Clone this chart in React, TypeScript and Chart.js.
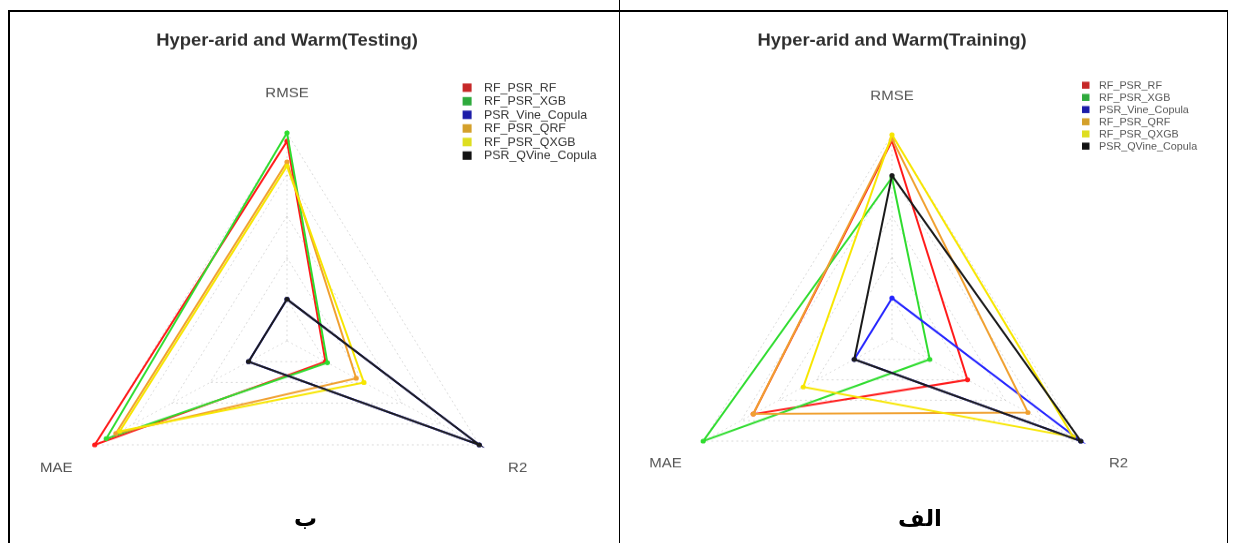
import React, { useEffect, useRef } from 'react';
import { Chart, registerables } from 'chart.js';

Chart.register(...registerables);

// Axes in clockwise order from the top (as drawn)
const AXES = ['RMSE', 'R2', 'MAE'];
const MODELS = ['RF_PSR_RF', 'RF_PSR_XGB', 'PSR_Vine_Copula', 'RF_PSR_QRF', 'RF_PSR_QXGB', 'PSR_QVine_Copula'];

// Relative radar values (fraction of outer ring): [RMSE, R2, MAE]
const TEST_RF_PSR_RF = [0.96, 0.2, 1.0];
const TEST_RF_PSR_XGB = [1.0, 0.21, 0.94];
const TEST_PSR_VINE = [0.2, 1.0, 0.2];
const TEST_RF_PSR_QRF = [0.86, 0.36, 0.89];
const TEST_RF_PSR_QXGB = [0.84, 0.4, 0.87];
const TEST_PSR_QVINE = [0.2, 1.0, 0.2];

const TRAIN_RF_PSR_RF = [0.97, 0.4, 0.735];
const TRAIN_RF_PSR_XGB = [0.79, 0.2, 1.0];
const TRAIN_PSR_VINE = [0.2, 1.0, 0.2];
const TRAIN_RF_PSR_QRF = [0.98, 0.72, 0.735];
const TRAIN_RF_PSR_QXGB = [1.0, 0.96, 0.47];
const TRAIN_PSR_QVINE = [0.8, 1.0, 0.2];

const TEST_SERIES = [TEST_RF_PSR_RF, TEST_RF_PSR_XGB, TEST_PSR_VINE, TEST_RF_PSR_QRF, TEST_RF_PSR_QXGB, TEST_PSR_QVINE];
const TRAIN_SERIES = [TRAIN_RF_PSR_RF, TRAIN_RF_PSR_XGB, TRAIN_PSR_VINE, TRAIN_RF_PSR_QRF, TRAIN_RF_PSR_QXGB, TRAIN_PSR_QVINE];

const LINE_COLORS = ['#ff1a1a', '#2fdc2f', '#2424ff', '#f0a030', '#f7e600', '#1a1a1a'];
const LEGEND_COLORS = ['#c62828', '#2eaa3c', '#1c1ca8', '#d4a02a', '#dede20', '#111111'];

const SY = 0.937; // vertical squeeze of the original figure
const FONT = '"Liberation Sans", Arial, sans-serif';

const decorPlugin = {
  id: 'radarDecor',
  afterDraw(chart: any, _args: any, opts: any) {
    const ctx = chart.ctx;
    const scale = chart.scales.r;
    ctx.save();
    ctx.font = `${opts.axisFont}px ${FONT}`;
    ctx.fillStyle = opts.axisColor;
    ctx.textAlign = 'center';
    ctx.textBaseline = 'middle';
    (chart.data.labels as string[]).forEach((lab, i) => {
      const p = scale.getPointPosition(i, scale.drawingArea * 1.2);
      ctx.fillText(lab, p.x, p.y + 2.5);
    });
    ctx.font = `${opts.legendFont}px ${FONT}`;
    ctx.textAlign = 'left';
    chart.data.datasets.forEach((ds: any, i: number) => {
      const y = opts.legendY + i * opts.legendDy;
      ctx.fillStyle = LEGEND_COLORS[i];
      ctx.fillRect(opts.legendX, y - opts.legendBox / 2, opts.legendBox, opts.legendBox);
      ctx.fillStyle = opts.legendColor;
      ctx.fillText(ds.label, opts.legendTextX, y + 0.5);
    });
    ctx.restore();
  },
};

type PanelProps = {
  title: string;
  series: number[][];
  left: number;
  top: number;
  width: number;
  height: number;
  pad: { left: number; right: number; top: number; bottom: number };
  titlePad: { top: number; bottom: number };
  decor: any;
};

function RadarPanel(p: PanelProps) {
  const ref = useRef<HTMLCanvasElement>(null);
  useEffect(() => {
    const chart = new Chart(ref.current as HTMLCanvasElement, {
      type: 'radar',
      data: {
        labels: AXES,
        datasets: MODELS.map((m, i) => ({
          label: m,
          data: p.series[i],
          borderColor: LINE_COLORS[i],
          backgroundColor: 'rgba(0,0,0,0)',
          pointBackgroundColor: LINE_COLORS[i],
          pointBorderColor: LINE_COLORS[i],
          pointBorderWidth: 0,
          pointRadius: 2.6,
          borderWidth: 2,
          fill: false,
          order: MODELS.length - i,
        })),
      },
      options: {
        responsive: false,
        animation: false,
        devicePixelRatio: 1,
        layout: { padding: p.pad },
        plugins: {
          legend: { display: false },
          tooltip: { enabled: false },
          title: {
            display: true,
            text: p.title,
            color: '#2e2e2e',
            font: { family: FONT, size: 18.4, weight: 'bold' },
            padding: p.titlePad,
          },
          radarDecor: p.decor,
        } as any,
        scales: {
          r: {
            min: 0,
            max: 1,
            ticks: { display: false, stepSize: 0.2 },
            pointLabels: { display: false },
            grid: { color: 'rgba(0,0,0,0.16)', lineWidth: 1 },
            border: { dash: [2, 3] },
            angleLines: { color: 'rgba(0,0,0,0.14)', lineWidth: 1, borderDash: [2, 3] },
          } as any,
        },
      },
      plugins: [decorPlugin],
    });
    return () => chart.destroy();
  }, []);
  return (
    <canvas
      ref={ref}
      width={p.width}
      height={p.height}
      style={{ position: 'absolute', left: p.left, top: p.top, transform: `scaleY(${SY})`, transformOrigin: '0 0' }}
    />
  );
}

const line = (l: number, t: number, w: number, h: number) => (
  <div style={{ position: 'absolute', left: l, top: t, width: w, height: h, background: '#000' }} />
);

export default function App() {
  return (
    <div style={{ position: 'fixed', left: 0, top: 0, width: 1234, height: 543, overflow: 'hidden', background: '#fff' }}>
      {line(8, 10, 1220, 1.5)}
      {line(8, 10, 1.5, 533)}
      {line(618.5, 0, 1.5, 543)}
      {line(1226.5, 10, 1.5, 533)}
      <RadarPanel
        title="Hyper-arid and Warm(Testing)"
        series={TEST_SERIES}
        left={9}
        top={11}
        width={609}
        height={580}
        pad={{ left: 56, right: 109, top: 0, bottom: 6 }}
        titlePad={{ top: 21, bottom: 86.92 }}
        decor={{ axisFont: 15, axisColor: '#505050', legendFont: 12.4, legendColor: '#333', legendX: 453.6, legendTextX: 475, legendY: 81.8, legendDy: 14.5, legendBox: 9 }}
      />
      <RadarPanel
        title="Hyper-arid and Warm(Training)"
        series={TRAIN_SERIES}
        left={620}
        top={11}
        width={606}
        height={580}
        pad={{ left: 54, right: 116, top: 0, bottom: 12 }}
        titlePad={{ top: 21, bottom: 88.92 }}
        decor={{ axisFont: 15, axisColor: '#555555', legendFont: 10.8, legendColor: '#555', legendX: 462, legendTextX: 479, legendY: 79.2, legendDy: 13, legendBox: 7.5 }}
      />
      <div style={{ position: 'absolute', left: 1, top: 503, width: 609, textAlign: 'center', font: `bold 23px "DejaVu Sans", sans-serif`, direction: 'rtl', lineHeight: '30px' }}>ب</div>
      <div style={{ position: 'absolute', left: 617, top: 503, width: 606, textAlign: 'center', font: `bold 23px "DejaVu Sans", sans-serif`, direction: 'rtl', lineHeight: '30px' }}>الف</div>
    </div>
  );
}
